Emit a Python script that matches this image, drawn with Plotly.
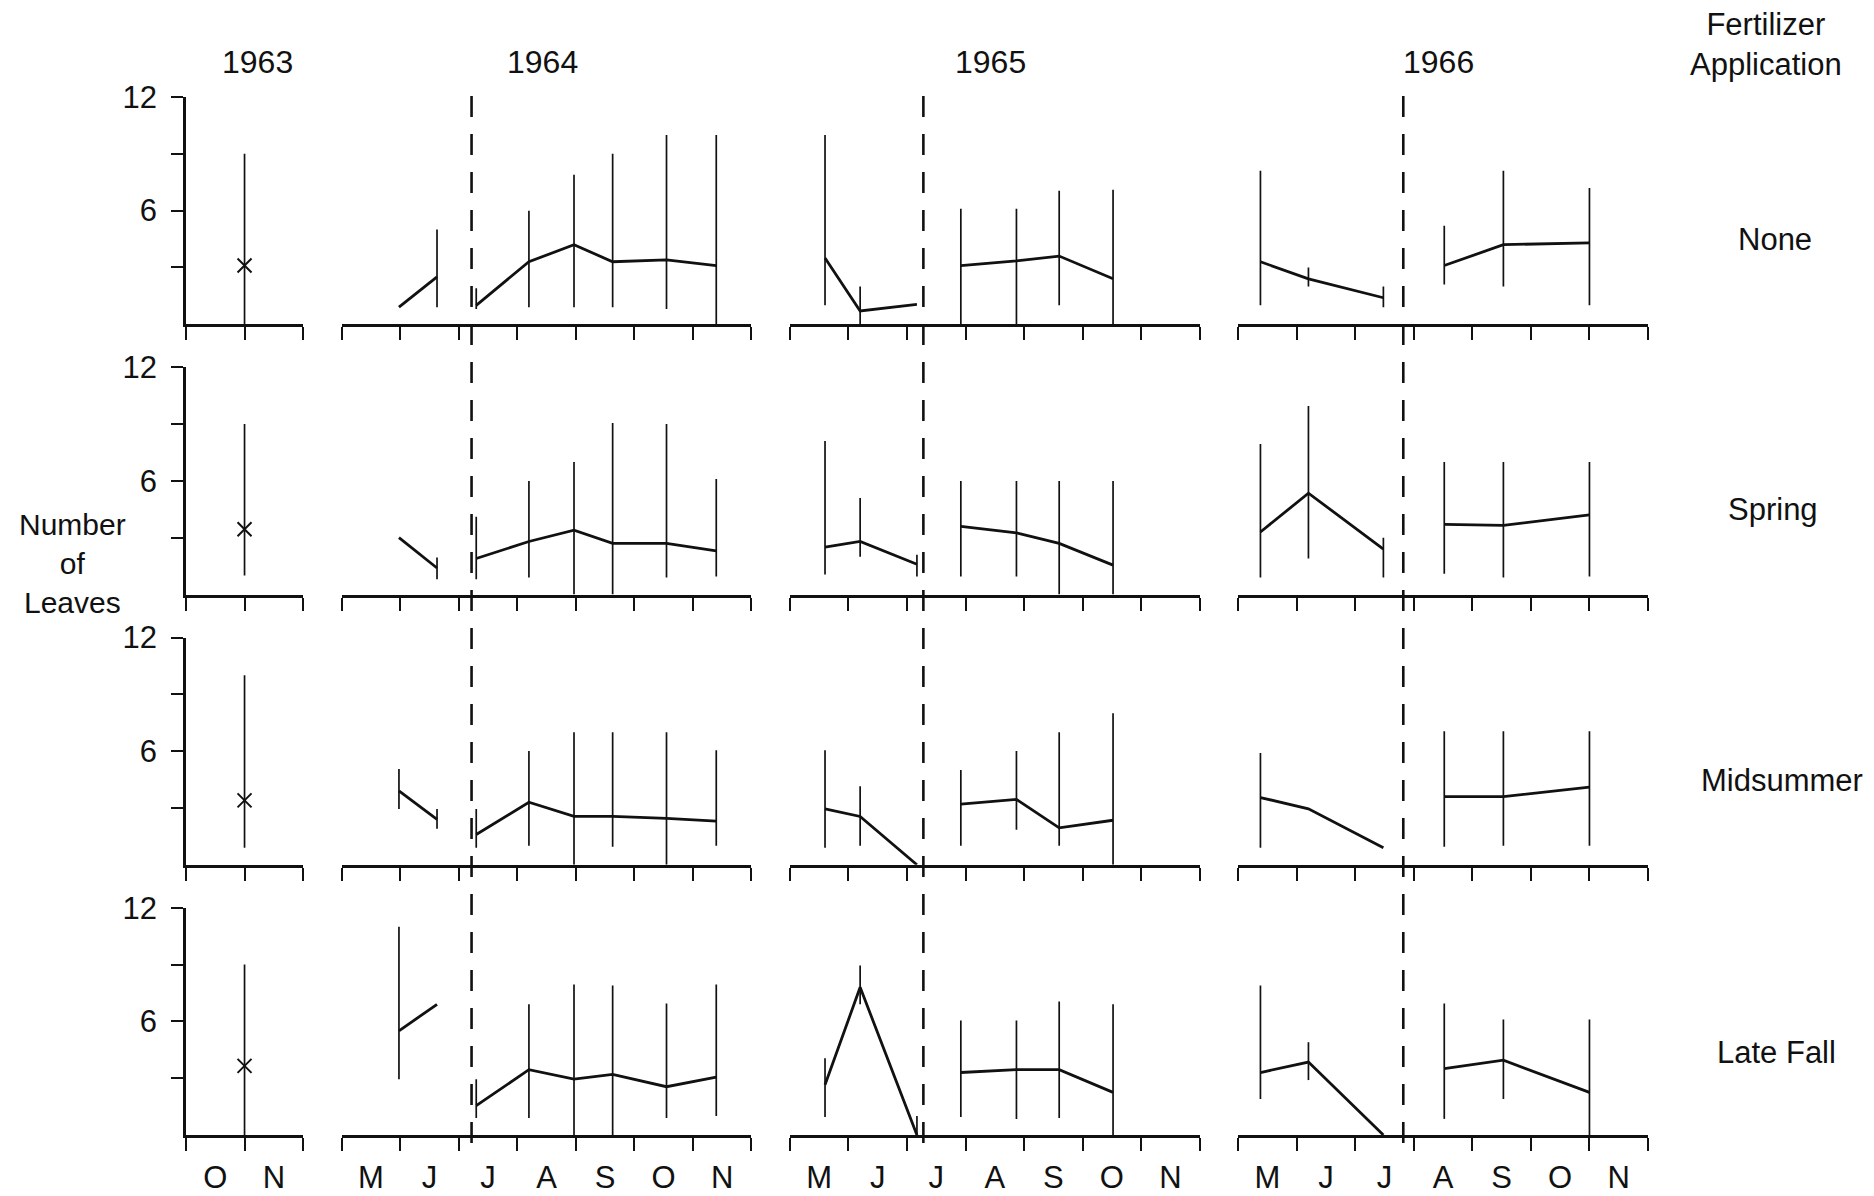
import plotly.graph_objects as go
from plotly.subplots import make_subplots

# ---------------- data ----------------
treatments = ["None", "Spring", "Midsummer", "Late Fall"]
years = ["1963", "1964", "1965", "1966"]

month_labels_1963 = ["O", "N"]
month_labels_season = ["M", "J", "J", "A", "S", "O", "N"]

# sampling dates as fractional month number (5.0 = 1 May, 11.0 = 1 Nov)
dates_1963 = [11.0]
dates_1964 = [5.98, 6.63, 7.30, 8.20, 8.97, 9.63, 10.55, 11.40]
dates_1965 = [5.60, 6.20, 7.17, 7.92, 8.87, 9.60, 10.52]
dates_1966 = [5.38, 6.20, 7.48, 8.52, 9.53, 11.00]

# number of sampling dates before the break in the line
split_1963 = 0
split_1964 = 2
split_1965 = 3
split_1966 = 3

# dashed reference lines (fractional month number)
dashed_1964 = 7.22
dashed_1965 = 7.28
dashed_1966 = 7.82

# mean number of leaves and range (low, high)
none_1963_mean = [3.1]
none_1963_low = [0.0]
none_1963_high = [9.0]
none_1964_mean = [0.9, 2.5, 1.0, 3.3, 4.2, 3.3, 3.4, 3.1]
none_1964_low = [0.9, 0.9, 0.8, 0.9, 0.9, 0.9, 0.8, 0.0]
none_1964_high = [0.9, 5.0, 1.9, 6.0, 7.9, 9.0, 10.0, 10.0]
none_1965_mean = [3.5, 0.7, 1.05, 3.1, 3.35, 3.6, 2.4]
none_1965_low = [1.0, 0.0, 1.05, 0.0, 0.0, 1.0, 0.0]
none_1965_high = [10.0, 2.0, 1.05, 6.1, 6.1, 7.05, 7.1]
none_1966_mean = [3.3, 2.4, 1.4, 3.1, 4.2, 4.3]
none_1966_low = [1.0, 2.0, 0.9, 2.1, 2.0, 1.0]
none_1966_high = [8.1, 3.0, 2.0, 5.2, 8.1, 7.2]

spring_1963_mean = [3.45]
spring_1963_low = [1.0]
spring_1963_high = [9.0]
spring_1964_mean = [3.0, 1.4, 1.9, 2.8, 3.4, 2.7, 2.7, 2.3]
spring_1964_low = [3.0, 0.8, 0.8, 0.9, 0.0, 0.0, 0.9, 0.95]
spring_1964_high = [3.0, 1.95, 4.1, 6.0, 7.0, 9.05, 9.0, 6.1]
spring_1965_mean = [2.5, 2.8, 1.6, 3.6, 3.25, 2.7, 1.55]
spring_1965_low = [1.05, 2.0, 0.95, 0.95, 0.95, 0.0, 0.0]
spring_1965_high = [8.1, 5.1, 2.1, 6.0, 6.0, 6.0, 6.0]
spring_1966_mean = [3.3, 5.35, 2.4, 3.7, 3.65, 4.2]
spring_1966_low = [0.9, 1.9, 0.9, 1.1, 0.9, 0.95]
spring_1966_high = [7.95, 9.95, 3.0, 7.0, 7.0, 7.0]

mid_1963_mean = [3.4]
mid_1963_low = [0.9]
mid_1963_high = [10.0]
mid_1964_mean = [3.9, 2.4, 1.6, 3.3, 2.55, 2.55, 2.45, 2.3]
mid_1964_low = [2.95, 1.9, 0.9, 1.0, 0.0, 0.95, 0.0, 1.0]
mid_1964_high = [5.05, 2.95, 2.95, 6.0, 7.0, 7.0, 7.0, 6.05]
mid_1965_mean = [2.95, 2.55, 0.0, 3.2, 3.45, 1.95, 2.35]
mid_1965_low = [0.9, 1.0, 0.0, 1.0, 1.85, 1.0, 0.0]
mid_1965_high = [6.05, 4.15, 0.0, 5.0, 6.0, 7.0, 8.0]
mid_1966_mean = [3.55, 2.95, 0.9, 3.6, 3.6, 4.1]
mid_1966_low = [0.9, 2.95, 0.9, 0.95, 1.0, 1.0]
mid_1966_high = [5.9, 2.95, 0.9, 7.05, 7.05, 7.05]

late_1963_mean = [3.65]
late_1963_low = [0.0]
late_1963_high = [9.0]
late_1964_mean = [5.5, 6.9, 1.55, 3.45, 2.95, 3.2, 2.55, 3.05]
late_1964_low = [2.95, 6.9, 0.9, 0.9, 0.0, 0.0, 0.9, 1.0]
late_1964_high = [11.0, 6.9, 2.95, 6.9, 7.95, 7.9, 6.95, 7.95]
late_1965_mean = [2.65, 7.8, 0.0, 3.3, 3.45, 3.45, 2.25]
late_1965_low = [0.95, 6.9, 0.0, 0.95, 0.85, 0.9, 0.0]
late_1965_high = [4.05, 8.95, 1.0, 6.05, 6.05, 7.05, 6.9]
late_1966_mean = [3.3, 3.85, 0.0, 3.5, 3.95, 2.25]
late_1966_low = [1.9, 2.9, 0.0, 0.85, 1.9, 0.0]
late_1966_high = [7.9, 4.9, 0.0, 6.95, 6.1, 6.1]

# ---------------- tables built from the lists ----------------
dates = {"1963": dates_1963, "1964": dates_1964, "1965": dates_1965, "1966": dates_1966}
splits = {"1963": split_1963, "1964": split_1964, "1965": split_1965, "1966": split_1966}
dashed = {"1964": dashed_1964, "1965": dashed_1965, "1966": dashed_1966}
series = {
    "None": {
        "1963": (none_1963_mean, none_1963_low, none_1963_high),
        "1964": (none_1964_mean, none_1964_low, none_1964_high),
        "1965": (none_1965_mean, none_1965_low, none_1965_high),
        "1966": (none_1966_mean, none_1966_low, none_1966_high),
    },
    "Spring": {
        "1963": (spring_1963_mean, spring_1963_low, spring_1963_high),
        "1964": (spring_1964_mean, spring_1964_low, spring_1964_high),
        "1965": (spring_1965_mean, spring_1965_low, spring_1965_high),
        "1966": (spring_1966_mean, spring_1966_low, spring_1966_high),
    },
    "Midsummer": {
        "1963": (mid_1963_mean, mid_1963_low, mid_1963_high),
        "1964": (mid_1964_mean, mid_1964_low, mid_1964_high),
        "1965": (mid_1965_mean, mid_1965_low, mid_1965_high),
        "1966": (mid_1966_mean, mid_1966_low, mid_1966_high),
    },
    "Late Fall": {
        "1963": (late_1963_mean, late_1963_low, late_1963_high),
        "1964": (late_1964_mean, late_1964_low, late_1964_high),
        "1965": (late_1965_mean, late_1965_low, late_1965_high),
        "1966": (late_1966_mean, late_1966_low, late_1966_high),
    },
}

# ---------------- layout geometry ----------------
W, H = 1874, 1196
L, R, T, B = 186, 226, 97, 61
PW, PH = W - L - R, H - T - B
FONT = "Liberation Sans"
INK = "#111111"


def pxx(x):
    return (x - L) / PW


def pxy(y):
    return 1 - (y - T) / PH


fig = make_subplots(
    rows=4, cols=4,
    column_widths=[2, 7, 7, 7],
    horizontal_spacing=38.5 / PW,
    vertical_spacing=43.0 / PH,
)

for r, trt in enumerate(treatments, start=1):
    for c, yr in enumerate(years, start=1):
        xs = dates[yr]
        mean, low, high = series[trt][yr]
        sp = splits[yr]
        segs = [(0, sp), (sp, len(xs))] if sp else [(0, len(xs))]
        for a, b in segs:
            m = mean[a:b]
            up = [h - v for h, v in zip(high[a:b], m)]
            dn = [v - lo for v, lo in zip(m, low[a:b])]
            if yr == "1963":
                fig.add_trace(go.Scatter(
                    x=xs[a:b], y=m, mode="markers",
                    marker=dict(symbol="x-thin", size=14,
                                line=dict(width=2.0, color=INK), color=INK),
                    error_y=dict(type="data", symmetric=False, array=up,
                                 arrayminus=dn, width=0, thickness=1.7, color=INK),
                    showlegend=False, hoverinfo="skip"), row=r, col=c)
            else:
                fig.add_trace(go.Scatter(
                    x=xs[a:b], y=m, mode="lines",
                    line=dict(color=INK, width=2.8),
                    error_y=dict(type="data", symmetric=False, array=up,
                                 arrayminus=dn, width=0, thickness=1.7, color=INK),
                    showlegend=False, hoverinfo="skip"), row=r, col=c)

        # axes
        if yr == "1963":
            rng = [10, 12]
            centers = [10.5, 11.5]
            labels = month_labels_1963
        else:
            rng = [5, 12]
            centers = [5.5 + i for i in range(7)]
            labels = month_labels_season
        bounds = list(range(rng[0], rng[1] + 1))
        fig.update_xaxes(
            range=rng, showline=True, linewidth=3, linecolor=INK,
            showgrid=False, zeroline=False, automargin=False,
            tickmode="array", tickvals=centers, ticktext=labels, ticks="",
            showticklabels=(r == 4), ticklabelstandoff=13,
            tickfont=dict(family=FONT, size=31, color=INK),
            minor=dict(tickmode="array", tickvals=bounds, ticks="outside",
                       ticklen=13, tickwidth=2.4, tickcolor=INK, showgrid=False),
            row=r, col=c)
        if c == 1:
            fig.update_yaxes(
                range=[0, 12], showline=True, linewidth=2.6, linecolor=INK,
                showgrid=False, zeroline=False, automargin=False,
                tickmode="array", tickvals=[3, 6, 9, 12], ticktext=["", "6", "", "12"],
                ticks="outside", ticklen=12, tickwidth=2.4, tickcolor=INK,
                ticklabelstandoff=8,
                tickfont=dict(family=FONT, size=31, color=INK),
                row=r, col=c)
        else:
            fig.update_yaxes(
                range=[0, 12], showline=False, showgrid=False, zeroline=False,
                showticklabels=False, ticks="", automargin=False, row=r, col=c)

# dashed reference lines spanning all rows
for c, yr in ((2, "1964"), (3, "1965"), (4, "1966")):
    fig.add_shape(type="line", xref=f"x{c}", yref="paper",
                  x0=dashed[yr], x1=dashed[yr], y0=pxy(1143), y1=pxy(93),
                  line=dict(color=INK, width=2.6, dash="21px,17px"))

annotations = []
year_centers = {"1963": 257, "1964": 542, "1965": 990, "1966": 1438}
for yr in years:
    annotations.append(dict(text=yr, x=pxx(year_centers[yr]), y=pxy(62),
                            xref="paper", yref="paper", showarrow=False,
                            font=dict(family=FONT, size=32, color=INK),
                            xanchor="center", yanchor="middle"))

row_label_pos = {"None": (1775, 239), "Spring": (1773, 510),
                 "Midsummer": (1782, 780), "Late Fall": (1776, 1052)}
for trt in treatments:
    x, y = row_label_pos[trt]
    annotations.append(dict(text=trt, x=pxx(x), y=pxy(y), xref="paper", yref="paper",
                            showarrow=False, font=dict(family=FONT, size=31, color=INK),
                            xanchor="center", yanchor="middle"))

annotations.append(dict(text="Fertilizer<br>Application", x=pxx(1766), y=pxy(44),
                        xref="paper", yref="paper", showarrow=False, align="center",
                        font=dict(family=FONT, size=31, color=INK),
                        xanchor="center", yanchor="middle"))
annotations.append(dict(text="Number<br>of<br>Leaves", x=pxx(73), y=pxy(563),
                        xref="paper", yref="paper", showarrow=False, align="center",
                        font=dict(family=FONT, size=30, color=INK),
                        xanchor="center", yanchor="middle"))

fig.update_layout(
    width=W, height=H,
    margin=dict(l=L, r=R, t=T, b=B, pad=0, autoexpand=False),
    paper_bgcolor="white", plot_bgcolor="white",
    annotations=annotations,
    showlegend=False,
    font=dict(family=FONT, color=INK),
)

fig.write_html("out.html")
